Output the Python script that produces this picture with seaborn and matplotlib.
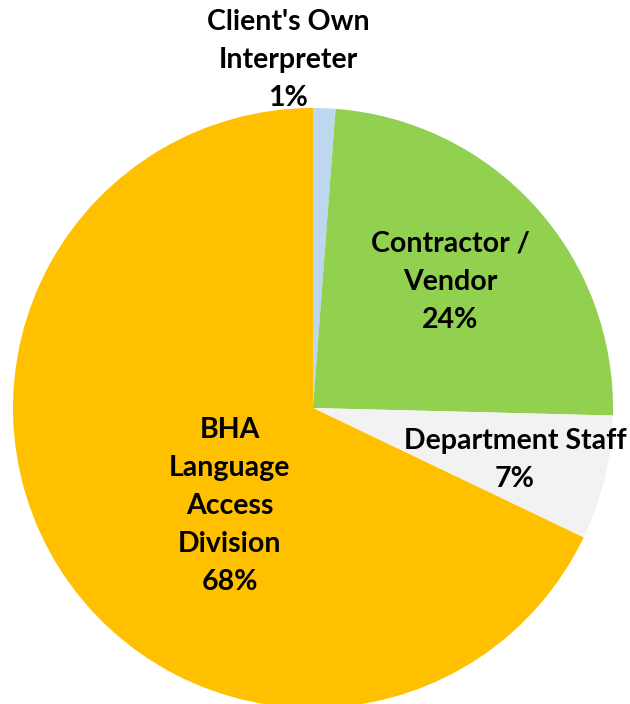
import matplotlib
matplotlib.use("Agg")
import matplotlib.pyplot as plt
import seaborn as sns

# data (clockwise from top)
labels = ["Client's Own\nInterpreter", "Contractor /\nVendor", "Department Staff", "BHA\nLanguage\nAccess\nDivision"]
values = [1.2, 24.2, 6.7, 67.9]
pct_text = ["1%", "24%", "7%", "68%"]
colors = ["#BDD7EE", "#92D050", "#F2F2F2", "#FFC000"]

# where each label block sits (data units, pie radius = 1)
label_pos = [(-0.083, 1.16), (0.457, 0.42), (0.673, -0.173), (-0.277, -0.327)]

sns.set_theme(style="white")
plt.rcParams["font.family"] = ["Lato", "DejaVu Sans"]

fig = plt.figure(figsize=(6.3, 7.04), dpi=100)
ax = fig.add_axes([0, 0, 1, 1])

wedges, texts = ax.pie(values, colors=colors, startangle=90, counterclock=False,
                       labels=[f"{l}\n{p}" for l, p in zip(labels, pct_text)],
                       wedgeprops=dict(linewidth=0))

for t, pos in zip(texts, label_pos):
    t.set_position(pos)
    t.set_ha("center")
    t.set_va("center")
    t.set_fontsize(20.5)
    t.set_fontweight("bold")
    t.set_color("black")
    t.set_linespacing(1.58)

ax.set_aspect("auto")
ax.set_xlim(-313 / 300, 317 / 300)
ax.set_ylim(-(704 - 408) / 300, 408 / 300)
ax.axis("off")

fig.savefig("out.png", dpi=100)
